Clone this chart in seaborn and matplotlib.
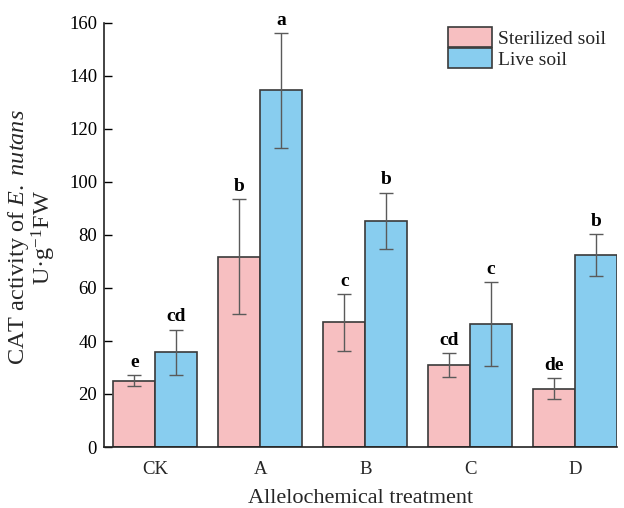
import matplotlib
matplotlib.use("Agg")
import matplotlib.pyplot as plt
import seaborn as sns
import pandas as pd
import numpy as np

treatments = ["CK", "A", "B", "C", "D"]
soils = ["Sterilized soil", "Live soil"]
sterilized = [25.0, 71.8, 47.0, 30.8, 22.0]
live = [35.8, 134.6, 85.3, 46.3, 72.4]
sterilized_err = [2.0, 21.7, 10.7, 4.5, 4.0]
live_err = [8.5, 21.7, 10.7, 15.8, 8.0]
sterilized_letters = ["e", "b", "c", "cd", "de"]
live_letters = ["cd", "a", "b", "c", "b"]

df = pd.DataFrame({
    "Treatment": treatments * 2,
    "Soil": [soils[0]] * 5 + [soils[1]] * 5,
    "Value": sterilized + live,
})

sns.set_theme(style="white")
plt.rcParams["font.family"] = ["Liberation Serif", "DejaVu Serif"]
plt.rcParams["mathtext.fontset"] = "custom"
plt.rcParams["mathtext.rm"] = "Liberation Serif"
plt.rcParams["mathtext.it"] = "Liberation Serif:italic"

fig = plt.figure(figsize=(6.24, 5.08), dpi=100)
ax = fig.add_axes([104/624, 1-447/508, (617-104)/624, (447-23)/508])

palette = {"Sterilized soil": "#F7BFC1", "Live soil": "#88CDEF"}
sns.barplot(data=df, x="Treatment", y="Value", hue="Soil", order=treatments,
            hue_order=soils, palette=palette, errorbar=None, width=0.8,
            edgecolor="#3a3a3a", linewidth=1.2, saturation=1, ax=ax)

bar_conts = list(ax.containers[:2])
vals = [sterilized, live]
errs = [sterilized_err, live_err]
letters = [sterilized_letters, live_letters]
for h, cont in enumerate(bar_conts):
    for i, bar in enumerate(cont.patches):
        xc = bar.get_x() + bar.get_width() / 2
        v = vals[h][i]
        e = errs[h][i]
        ax.errorbar(xc, v, yerr=e, fmt="none", ecolor="#5a5a5a", elinewidth=1.0,
                    capsize=5, capthick=1.0, zorder=5)
        ax.text(xc, v + e + 1.6, letters[h][i], ha="center", va="bottom",
                fontsize=14, fontweight="bold", color="black")

ax.set_ylim(0, 160)
ax.set_xlim(-0.49, 4.4)
ax.set_yticks(np.arange(0, 161, 20))
ax.tick_params(axis="y", direction="in", length=6, width=1.0, labelsize=13.5,
               colors="black", left=True, pad=5)
ax.tick_params(axis="x", length=0, labelsize=13.5, pad=10)
for s in ["top", "right"]:
    ax.spines[s].set_visible(False)
for s in ["left", "bottom"]:
    ax.spines[s].set_color("#222222")
    ax.spines[s].set_linewidth(1.2)

ax.set_xlabel("Allelochemical treatment", fontsize=16, labelpad=8)
ax.set_ylabel("CAT activity of $\\it{E.\\ nutans}$\nU·g$^{-1}$FW", fontsize=17.5,
              linespacing=0.93, va="center", ha="center")
ax.yaxis.set_label_coords(-0.14, 0.495)

leg = ax.legend(loc="upper left", bbox_to_anchor=(0.647, 1.017), frameon=False,
                fontsize=14, handlelength=2.27, handleheight=1.2,
                handletextpad=0.3, labelspacing=0.0, borderaxespad=0.2)
for p in leg.get_patches():
    p.set_edgecolor("#3a3a3a")

fig.savefig("out.png", dpi=100)
